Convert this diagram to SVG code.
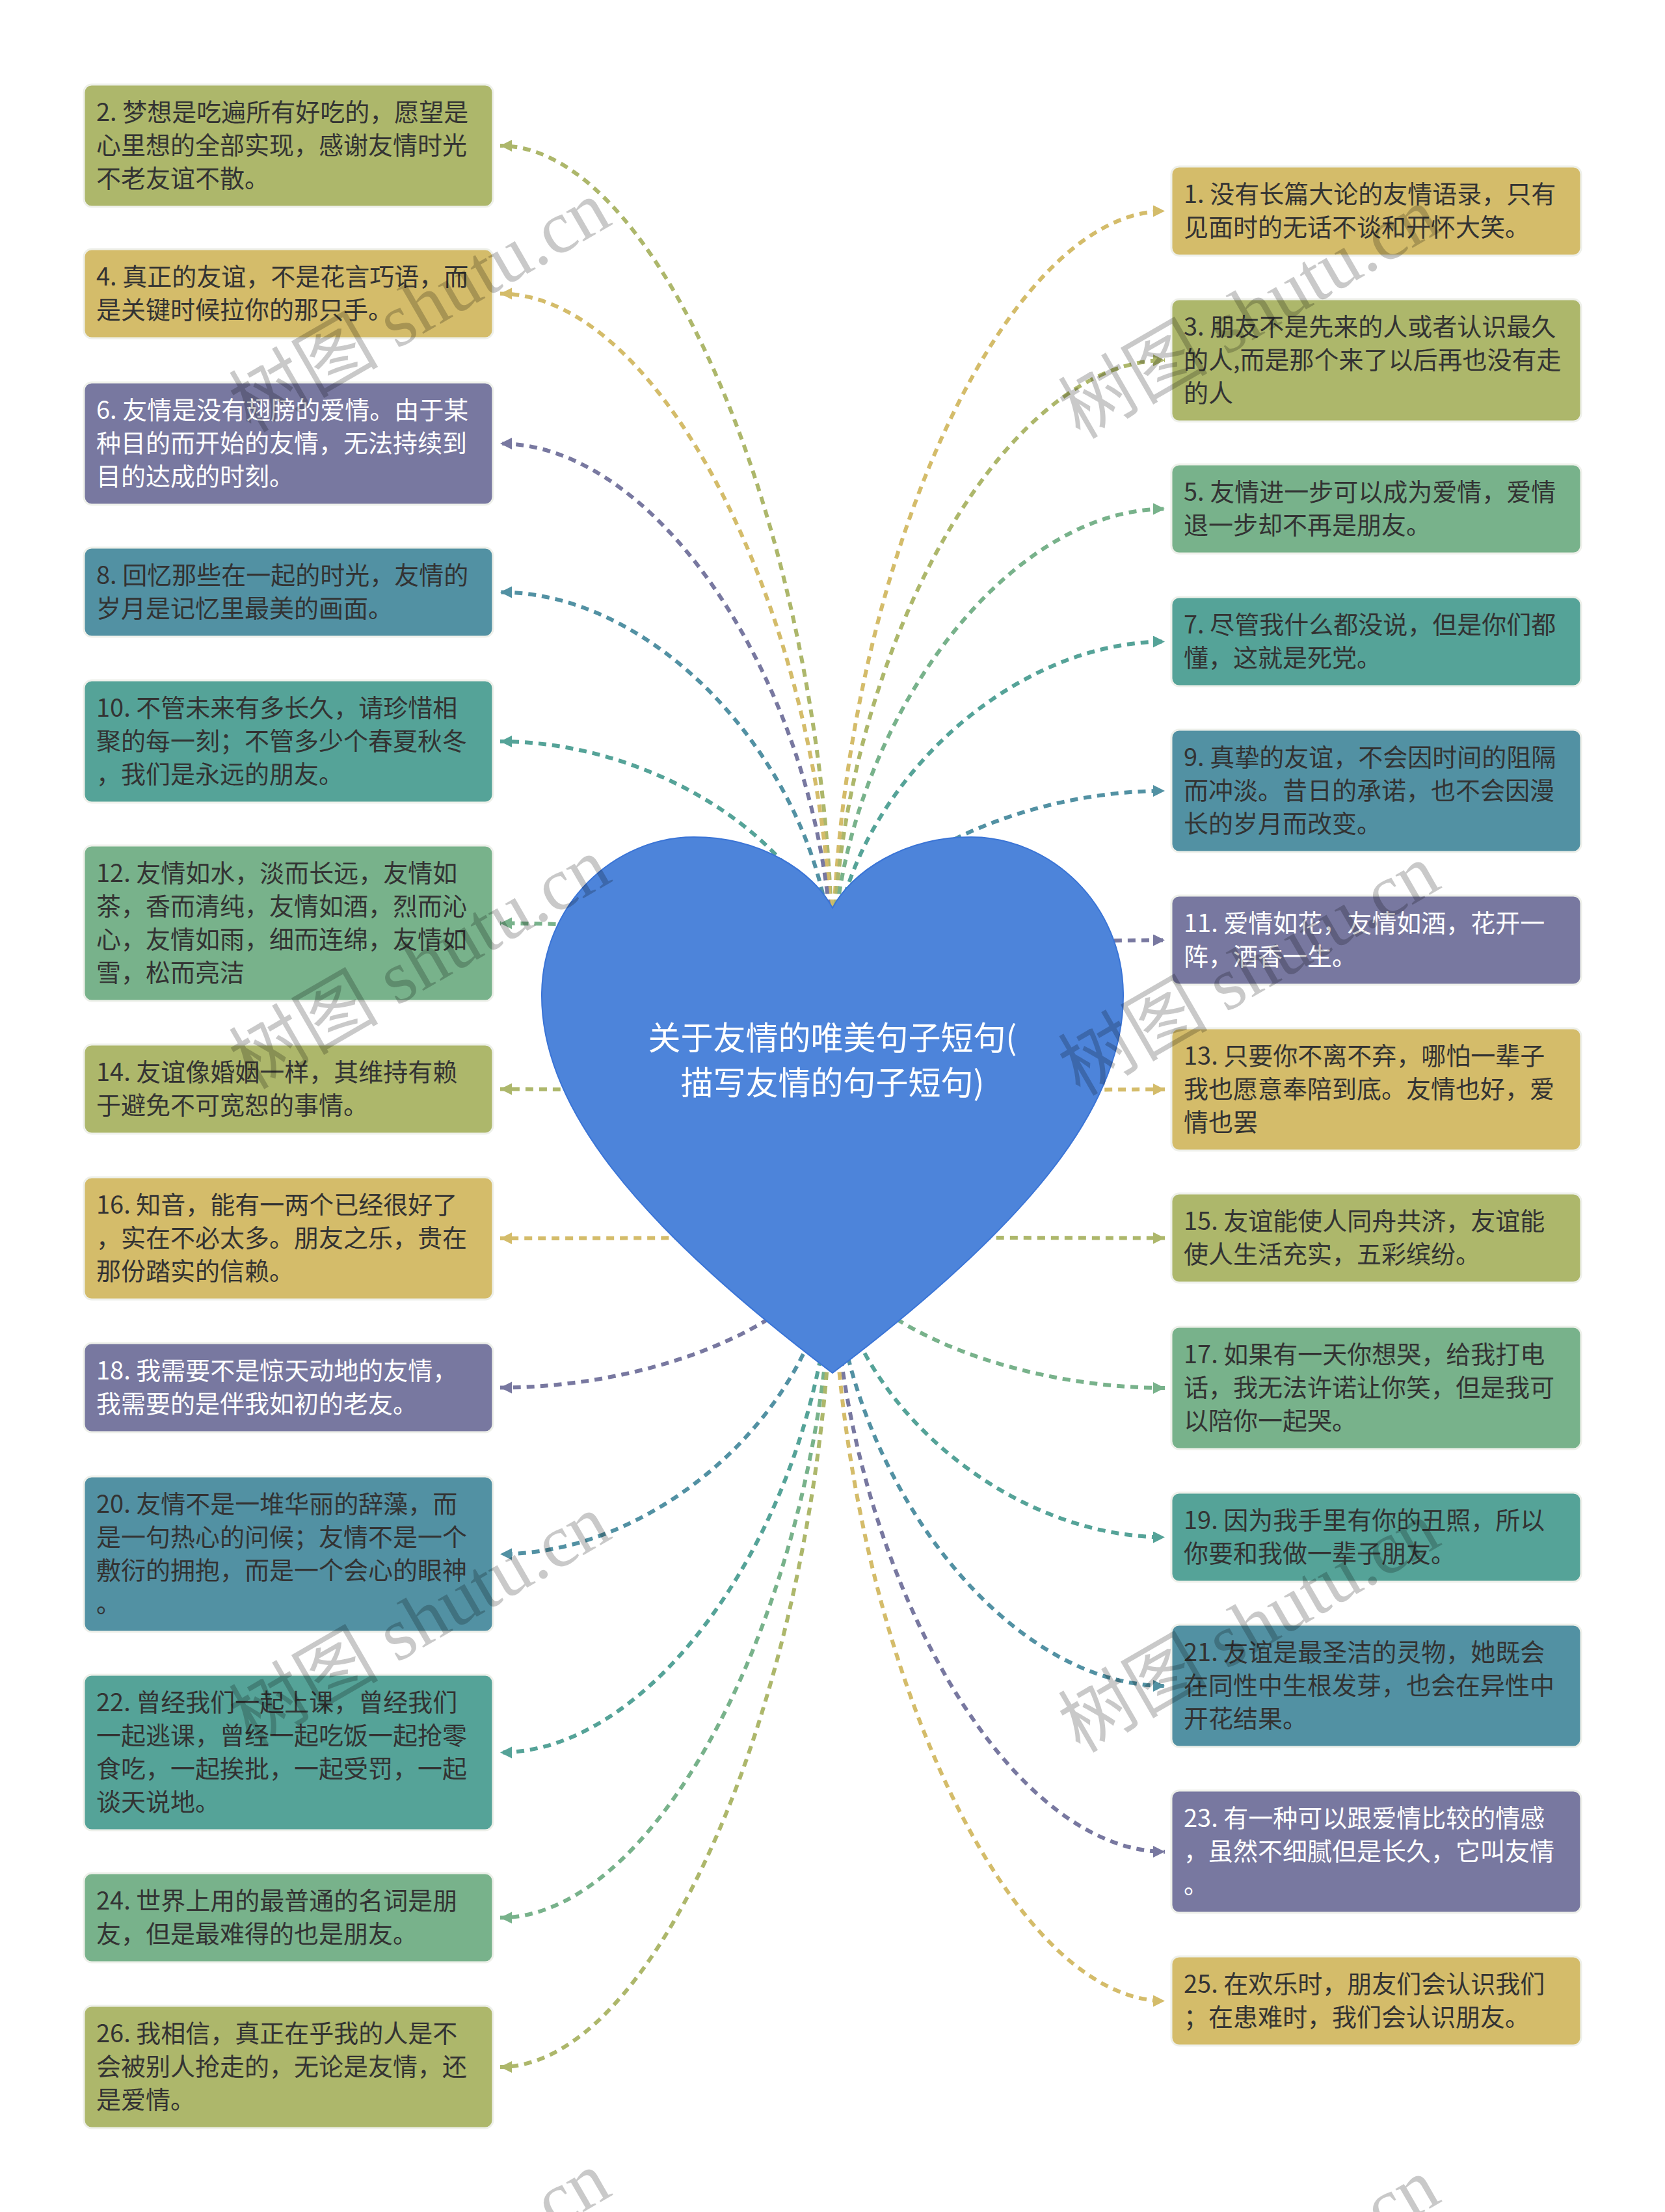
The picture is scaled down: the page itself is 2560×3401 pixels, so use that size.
<svg xmlns="http://www.w3.org/2000/svg" width="2560" height="3401" viewBox="0 0 2560 3401">
<style>
.bx{stroke:#eef0ea;stroke-width:3}
.t{font-family:"Noto Sans CJK SC","Noto Sans",sans-serif;font-size:38px}
.d{fill:#333333}.w{fill:#ffffff}
.ol{fill:#adb76b}.mu{fill:#d4bc6a}.pu{fill:#7878a0}.tb{fill:#5291a3}.tg{fill:#55a398}.sg{fill:#78b28b}
.c{fill:none;stroke-width:6;stroke-dasharray:12 9}
.col{stroke:#adb76b}.cmu{stroke:#d4bc6a}.cpu{stroke:#7878a0}.ctb{stroke:#5291a3}.ctg{stroke:#55a398}.csg{stroke:#78b28b}
.wm{font-family:"Liberation Serif","Noto Sans CJK SC",serif;font-size:115px;fill:#000;fill-opacity:0.21}
</style>
<defs>
<marker id="aol" markerUnits="userSpaceOnUse" markerWidth="20" markerHeight="20" refX="18" refY="9" orient="auto"><path d="M0,0 L18,9 L0,18 z" fill="#adb76b"/></marker>
<marker id="amu" markerUnits="userSpaceOnUse" markerWidth="20" markerHeight="20" refX="18" refY="9" orient="auto"><path d="M0,0 L18,9 L0,18 z" fill="#d4bc6a"/></marker>
<marker id="apu" markerUnits="userSpaceOnUse" markerWidth="20" markerHeight="20" refX="18" refY="9" orient="auto"><path d="M0,0 L18,9 L0,18 z" fill="#7878a0"/></marker>
<marker id="atb" markerUnits="userSpaceOnUse" markerWidth="20" markerHeight="20" refX="18" refY="9" orient="auto"><path d="M0,0 L18,9 L0,18 z" fill="#5291a3"/></marker>
<marker id="atg" markerUnits="userSpaceOnUse" markerWidth="20" markerHeight="20" refX="18" refY="9" orient="auto"><path d="M0,0 L18,9 L0,18 z" fill="#55a398"/></marker>
<marker id="asg" markerUnits="userSpaceOnUse" markerWidth="20" markerHeight="20" refX="18" refY="9" orient="auto"><path d="M0,0 L18,9 L0,18 z" fill="#78b28b"/></marker>
</defs>
<rect width="2560" height="3401" fill="#ffffff"/>
<g id="connectors">
<path class="c col" marker-end="url(#aol)" d="M1280,1500 C1280,862 1024.5,224 769,224"/>
<path class="c cmu" marker-end="url(#amu)" d="M1280,1500 C1280,975.75 1024.5,451.5 769,451.5"/>
<path class="c cpu" marker-end="url(#apu)" d="M1280,1500 C1280,1091 1024.5,682 769,682"/>
<path class="c ctb" marker-end="url(#atb)" d="M1280,1500 C1280,1205.25 1024.5,910.5 769,910.5"/>
<path class="c ctg" marker-end="url(#atg)" d="M1280,1500 C1280,1320 1024.5,1140 769,1140"/>
<path class="c csg" marker-end="url(#asg)" d="M1280,1500 C1280,1459.75 1024.5,1419.5 769,1419.5"/>
<path class="c col" marker-end="url(#aol)" d="M1280,1698 C1280,1686.25 1024.5,1674.5 769,1674.5"/>
<path class="c cmu" marker-end="url(#amu)" d="M1280,1900 C1280,1902 1024.5,1904 769,1904"/>
<path class="c cpu" marker-end="url(#apu)" d="M1280,1900 C1280,2016.75 1024.5,2133.5 769,2133.5"/>
<path class="c ctb" marker-end="url(#atb)" d="M1280,1900 C1280,2144.75 1024.5,2389.5 769,2389.5"/>
<path class="c ctg" marker-end="url(#atg)" d="M1280,1900 C1280,2297.25 1024.5,2694.5 769,2694.5"/>
<path class="c csg" marker-end="url(#asg)" d="M1280,1900 C1280,2424.25 1024.5,2948.5 769,2948.5"/>
<path class="c col" marker-end="url(#aol)" d="M1280,1900 C1280,2539 1024.5,3178 769,3178"/>
<path class="c cmu" marker-end="url(#amu)" d="M1280,1500 C1280,912.25 1535.5,324.5 1791,324.5"/>
<path class="c col" marker-end="url(#aol)" d="M1280,1500 C1280,1027 1535.5,554 1791,554"/>
<path class="c csg" marker-end="url(#asg)" d="M1280,1500 C1280,1141.25 1535.5,782.5 1791,782.5"/>
<path class="c ctg" marker-end="url(#atg)" d="M1280,1500 C1280,1243.25 1535.5,986.5 1791,986.5"/>
<path class="c ctb" marker-end="url(#atb)" d="M1280,1500 C1280,1358 1535.5,1216 1791,1216"/>
<path class="c cpu" marker-end="url(#apu)" d="M1280,1500 C1280,1472.75 1535.5,1445.5 1791,1445.5"/>
<path class="c cmu" marker-end="url(#amu)" d="M1280,1698 C1280,1686.5 1535.5,1675 1791,1675"/>
<path class="c col" marker-end="url(#aol)" d="M1280,1900 C1280,1901.75 1535.5,1903.5 1791,1903.5"/>
<path class="c csg" marker-end="url(#asg)" d="M1280,1900 C1280,2017 1535.5,2134 1791,2134"/>
<path class="c ctg" marker-end="url(#atg)" d="M1280,1900 C1280,2131.75 1535.5,2363.5 1791,2363.5"/>
<path class="c ctb" marker-end="url(#atb)" d="M1280,1900 C1280,2246 1535.5,2592 1791,2592"/>
<path class="c cpu" marker-end="url(#apu)" d="M1280,1900 C1280,2373.5 1535.5,2847 1791,2847"/>
<path class="c cmu" marker-end="url(#amu)" d="M1280,1900 C1280,2488.25 1535.5,3076.5 1791,3076.5"/>
</g>
<g id="root">
<path d="M1280,1396 C1250,1340 1170,1287 1067,1287 C945,1287 833,1390 833,1531 C833,1700 975,1880 1280,2111 C1585,1880 1727,1700 1727,1531 C1727,1390 1615,1287 1493,1287 C1390,1287 1310,1340 1280,1396 Z" fill="#4d84da" stroke="#3a74d6" stroke-width="2"/>
<text x="1280" y="1614" text-anchor="middle" font-family="Noto Sans CJK SC, sans-serif" font-size="50" fill="#ffffff">关于友情的唯美句子短句(</text>
<text x="1280" y="1683" text-anchor="middle" font-family="Noto Sans CJK SC, sans-serif" font-size="50" fill="#ffffff">描写友情的句子短句)</text>
</g>
<g id="n2"><rect class="bx ol" x="129" y="130" width="629" height="188" rx="12"/><text class="t d"><tspan x="148" y="186">2. 梦想是吃遍所有好吃的，愿望是</tspan><tspan x="148" y="237">心里想的全部实现，感谢友情时光</tspan><tspan x="148" y="288">不老友谊不散。</tspan></text></g>
<g id="n4"><rect class="bx mu" x="129" y="383" width="629" height="137" rx="12"/><text class="t d"><tspan x="148" y="439">4. 真正的友谊，不是花言巧语，而</tspan><tspan x="148" y="490">是关键时候拉你的那只手。</tspan></text></g>
<g id="n6"><rect class="bx pu" x="129" y="588" width="629" height="188" rx="12"/><text class="t w"><tspan x="148" y="644">6. 友情是没有翅膀的爱情。由于某</tspan><tspan x="148" y="695">种目的而开始的友情，无法持续到</tspan><tspan x="148" y="746">目的达成的时刻。</tspan></text></g>
<g id="n8"><rect class="bx tb" x="129" y="842" width="629" height="137" rx="12"/><text class="t d"><tspan x="148" y="898">8. 回忆那些在一起的时光，友情的</tspan><tspan x="148" y="949">岁月是记忆里最美的画面。</tspan></text></g>
<g id="n10"><rect class="bx tg" x="129" y="1046" width="629" height="188" rx="12"/><text class="t d"><tspan x="148" y="1102">10. 不管未来有多长久，请珍惜相</tspan><tspan x="148" y="1153">聚的每一刻；不管多少个春夏秋冬</tspan><tspan x="148" y="1204">，我们是永远的朋友。</tspan></text></g>
<g id="n12"><rect class="bx sg" x="129" y="1300" width="629" height="239" rx="12"/><text class="t d"><tspan x="148" y="1356">12. 友情如水，淡而长远，友情如</tspan><tspan x="148" y="1407">茶，香而清纯，友情如酒，烈而沁</tspan><tspan x="148" y="1458">心，友情如雨，细而连绵，友情如</tspan><tspan x="148" y="1509">雪，松而亮洁</tspan></text></g>
<g id="n14"><rect class="bx ol" x="129" y="1606" width="629" height="137" rx="12"/><text class="t d"><tspan x="148" y="1662">14. 友谊像婚姻一样，其维持有赖</tspan><tspan x="148" y="1713">于避免不可宽恕的事情。</tspan></text></g>
<g id="n16"><rect class="bx mu" x="129" y="1810" width="629" height="188" rx="12"/><text class="t d"><tspan x="148" y="1866">16. 知音，能有一两个已经很好了</tspan><tspan x="148" y="1917">，实在不必太多。朋友之乐，贵在</tspan><tspan x="148" y="1968">那份踏实的信赖。</tspan></text></g>
<g id="n18"><rect class="bx pu" x="129" y="2065" width="629" height="137" rx="12"/><text class="t w"><tspan x="148" y="2121">18. 我需要不是惊天动地的友情，</tspan><tspan x="148" y="2172">我需要的是伴我如初的老友。</tspan></text></g>
<g id="n20"><rect class="bx tb" x="129" y="2270" width="629" height="239" rx="12"/><text class="t d"><tspan x="148" y="2326">20. 友情不是一堆华丽的辞藻，而</tspan><tspan x="148" y="2377">是一句热心的问候；友情不是一个</tspan><tspan x="148" y="2428">敷衍的拥抱，而是一个会心的眼神</tspan><tspan x="148" y="2479">。</tspan></text></g>
<g id="n22"><rect class="bx tg" x="129" y="2575" width="629" height="239" rx="12"/><text class="t d"><tspan x="148" y="2631">22. 曾经我们一起上课，曾经我们</tspan><tspan x="148" y="2682">一起逃课，曾经一起吃饭一起抢零</tspan><tspan x="148" y="2733">食吃，一起挨批，一起受罚，一起</tspan><tspan x="148" y="2784">谈天说地。</tspan></text></g>
<g id="n24"><rect class="bx sg" x="129" y="2880" width="629" height="137" rx="12"/><text class="t d"><tspan x="148" y="2936">24. 世界上用的最普通的名词是朋</tspan><tspan x="148" y="2987">友，但是最难得的也是朋友。</tspan></text></g>
<g id="n26"><rect class="bx ol" x="129" y="3084" width="629" height="188" rx="12"/><text class="t d"><tspan x="148" y="3140">26. 我相信，真正在乎我的人是不</tspan><tspan x="148" y="3191">会被别人抢走的，无论是友情，还</tspan><tspan x="148" y="3242">是爱情。</tspan></text></g>
<g id="n1"><rect class="bx mu" x="1801" y="256" width="630" height="137" rx="12"/><text class="t d"><tspan x="1820" y="312">1. 没有长篇大论的友情语录，只有</tspan><tspan x="1820" y="363">见面时的无话不谈和开怀大笑。</tspan></text></g>
<g id="n3"><rect class="bx ol" x="1801" y="460" width="630" height="188" rx="12"/><text class="t d"><tspan x="1820" y="516">3. 朋友不是先来的人或者认识最久</tspan><tspan x="1820" y="567">的人,而是那个来了以后再也没有走</tspan><tspan x="1820" y="618">的人</tspan></text></g>
<g id="n5"><rect class="bx sg" x="1801" y="714" width="630" height="137" rx="12"/><text class="t d"><tspan x="1820" y="770">5. 友情进一步可以成为爱情，爱情</tspan><tspan x="1820" y="821">退一步却不再是朋友。</tspan></text></g>
<g id="n7"><rect class="bx tg" x="1801" y="918" width="630" height="137" rx="12"/><text class="t d"><tspan x="1820" y="974">7. 尽管我什么都没说，但是你们都</tspan><tspan x="1820" y="1025">懂，这就是死党。</tspan></text></g>
<g id="n9"><rect class="bx tb" x="1801" y="1122" width="630" height="188" rx="12"/><text class="t d"><tspan x="1820" y="1178">9. 真挚的友谊，不会因时间的阻隔</tspan><tspan x="1820" y="1229">而冲淡。昔日的承诺，也不会因漫</tspan><tspan x="1820" y="1280">长的岁月而改变。</tspan></text></g>
<g id="n11"><rect class="bx pu" x="1801" y="1377" width="630" height="137" rx="12"/><text class="t w"><tspan x="1820" y="1433">11. 爱情如花，友情如酒，花开一</tspan><tspan x="1820" y="1484">阵，酒香一生。</tspan></text></g>
<g id="n13"><rect class="bx mu" x="1801" y="1581" width="630" height="188" rx="12"/><text class="t d"><tspan x="1820" y="1637">13. 只要你不离不弃，哪怕一辈子</tspan><tspan x="1820" y="1688">我也愿意奉陪到底。友情也好，爱</tspan><tspan x="1820" y="1739">情也罢</tspan></text></g>
<g id="n15"><rect class="bx ol" x="1801" y="1835" width="630" height="137" rx="12"/><text class="t d"><tspan x="1820" y="1891">15. 友谊能使人同舟共济，友谊能</tspan><tspan x="1820" y="1942">使人生活充实，五彩缤纷。</tspan></text></g>
<g id="n17"><rect class="bx sg" x="1801" y="2040" width="630" height="188" rx="12"/><text class="t d"><tspan x="1820" y="2096">17. 如果有一天你想哭，给我打电</tspan><tspan x="1820" y="2147">话，我无法许诺让你笑，但是我可</tspan><tspan x="1820" y="2198">以陪你一起哭。</tspan></text></g>
<g id="n19"><rect class="bx tg" x="1801" y="2295" width="630" height="137" rx="12"/><text class="t d"><tspan x="1820" y="2351">19. 因为我手里有你的丑照，所以</tspan><tspan x="1820" y="2402">你要和我做一辈子朋友。</tspan></text></g>
<g id="n21"><rect class="bx tb" x="1801" y="2498" width="630" height="188" rx="12"/><text class="t d"><tspan x="1820" y="2554">21. 友谊是最圣洁的灵物，她既会</tspan><tspan x="1820" y="2605">在同性中生根发芽，也会在异性中</tspan><tspan x="1820" y="2656">开花结果。</tspan></text></g>
<g id="n23"><rect class="bx pu" x="1801" y="2753" width="630" height="188" rx="12"/><text class="t w"><tspan x="1820" y="2809">23. 有一种可以跟爱情比较的情感</tspan><tspan x="1820" y="2860">，虽然不细腻但是长久，它叫友情</tspan><tspan x="1820" y="2911">。</tspan></text></g>
<g id="n25"><rect class="bx mu" x="1801" y="3008" width="630" height="137" rx="12"/><text class="t d"><tspan x="1820" y="3064">25. 在欢乐时，朋友们会认识我们</tspan><tspan x="1820" y="3115">；在患难时，我们会认识朋友。</tspan></text></g>
<g id="watermarks">
<text class="wm" text-anchor="middle" transform="translate(665,505) rotate(-30)">树图 shutu.cn</text>
<text class="wm" text-anchor="middle" transform="translate(1940,515) rotate(-30)">树图 shutu.cn</text>
<text class="wm" text-anchor="middle" transform="translate(665,1515) rotate(-30)">树图 shutu.cn</text>
<text class="wm" text-anchor="middle" transform="translate(1940,1525) rotate(-30)">树图 shutu.cn</text>
<text class="wm" text-anchor="middle" transform="translate(665,2525) rotate(-30)">树图 shutu.cn</text>
<text class="wm" text-anchor="middle" transform="translate(1940,2535) rotate(-30)">树图 shutu.cn</text>
<text class="wm" text-anchor="middle" transform="translate(665,3535) rotate(-30)">树图 shutu.cn</text>
<text class="wm" text-anchor="middle" transform="translate(1940,3545) rotate(-30)">树图 shutu.cn</text>
</g>
</svg>
